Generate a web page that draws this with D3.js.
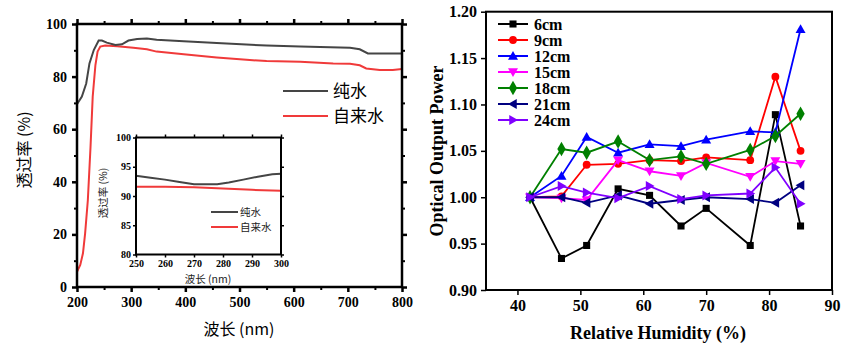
<!DOCTYPE html>
<html><head><meta charset="utf-8">
<script src="https://cdn.jsdelivr.net/npm/d3@7"></script>
<style>
html,body{margin:0;padding:0;background:#fff;}
svg{display:block;}
.num{font-family:"Liberation Serif","Times New Roman",serif;font-weight:bold;}
.cjk{font-family:"Noto Sans CJK SC","Noto Sans",sans-serif;}
</style></head>
<body>
<svg id="c" width="860" height="356"></svg>
<script>
// ---------- Left panel data (transmittance) ----------
const pureWl = [200,209,217,223,231,240,246,255,271,283,295,311,329,347,397,458,550,612,704,722,737,800];
const pureT  = [69.5,72.4,77.4,85,90.1,93.7,93.7,92.9,92.0,92.3,93.7,94.3,94.5,94.0,93.4,92.8,91.8,91.4,91.0,90.4,88.8,88.8];
const tapWl  = [200,206,211,215,220,225,229,234,238,243,252,274,304,329,347,397,458,519,550,612,673,704,722,734,759,783,800];
const tapT   = [5.8,8.4,12.8,20.4,33,53.4,72.4,84.4,89.5,91.4,91.8,91.5,91.0,90.4,89.5,88.5,87.3,86.3,85.9,85.6,85.0,84.9,84.3,83.1,82.5,82.5,82.9];
// inset (zoomed 250-300 nm)
const insetPureWl = [250,255,260,265,270,275,278,282,287,292,297,300];
const insetPureT  = [93.45,93.1,92.8,92.4,92.0,92.0,92.0,92.3,92.8,93.3,93.7,93.8];
const insetTapWl  = [250,260,270,280,290,300];
const insetTapT   = [91.6,91.6,91.5,91.3,91.05,90.9];
const leftSeries = ["纯水","自来水"];
const leftColors = ["#454545","#f03a3a"];
const leftXTicks = [200,300,400,500,600,700,800];
const leftYTicks = [0,20,40,60,80,100];
const insetXTicks = [250,260,270,280,290,300];
const insetYTicks = [80,85,90,95,100];

// ---------- Right panel data (optical output power) ----------
const humidity = [42,47,51,56,61,66,70,77,81,85];
const rightSeries = ["6cm","9cm","12cm","15cm","18cm","21cm","24cm"];
const p6  = [1.000,0.934,0.948,1.009,1.002,0.969,0.988,0.948,1.089,0.969];
const p9  = [1.000,1.001,1.035,1.036,1.040,1.039,1.043,1.040,1.130,1.050];
const p12 = [1.000,1.023,1.065,1.048,1.057,1.055,1.062,1.071,1.070,1.181];
const p15 = [1.000,0.999,0.997,1.040,1.028,1.023,1.037,1.022,1.039,1.036];
const p18 = [1.000,1.052,1.048,1.060,1.040,1.044,1.036,1.051,1.066,1.090];
const p21 = [1.000,1.000,0.994,1.002,0.993,0.997,1.000,0.998,0.994,1.013];
const p24 = [1.000,1.012,1.005,0.999,1.012,0.998,1.002,1.004,1.032,0.993];
const rightValues = [p6,p9,p12,p15,p18,p21,p24];
const rightColors = ["#000000","#ff0000","#0000ff","#ff00ff","#008000","#000080","#8000ff"];
const rightXTicks = [40,50,60,70,80,90];
const rightYTicks = [0.90,0.95,1.00,1.05,1.10,1.15,1.20];

const SERIF = '"Liberation Serif","Times New Roman",serif';
const svg = d3.select("#c");

function styleAxis(g, fontSize, strokeW){
  g.select(".domain").remove();
  g.attr("font-family",SERIF);
  g.selectAll(".tick line").attr("stroke","#000").attr("stroke-width",strokeW);
  g.selectAll(".tick text").style("font-family",SERIF).style("font-weight","bold")
    .attr("font-size",fontSize).attr("fill","#000");
}

// ================= LEFT MAIN =================
const lx = d3.scaleLinear([200,800],[77,402]);
const ly = d3.scaleLinear([0,100],[287,24]);
const line = (xs,ys,sx,sy)=>d3.line().x((d,i)=>sx(xs[i])).y((d,i)=>sy(ys[i]))(xs);

// minor ticks
const minorX = d3.range(250,800,100);
const minorY = d3.range(10,100,20);
[[d3.axisBottom(lx).tickValues(minorX).tickSize(3).tickFormat(""),`translate(0,287)`],
 [d3.axisTop(lx).tickValues(minorX).tickSize(3).tickFormat(""),`translate(0,24)`],
 [d3.axisLeft(ly).tickValues(minorY).tickSize(3).tickFormat(""),`translate(77,0)`],
 [d3.axisRight(ly).tickValues(minorY).tickSize(3).tickFormat(""),`translate(402,0)`]
].forEach(([ax,tr])=>{const g=svg.append("g").attr("transform",tr).call(ax);styleAxis(g,0,2);});

let g = svg.append("g").attr("transform","translate(0,287)")
  .call(d3.axisBottom(lx).tickValues(leftXTicks).tickSize(5).tickPadding(4).tickFormat(d3.format("d")));
styleAxis(g,14,2.5); g.selectAll(".tick text").attr("dy","0.75em");
g = svg.append("g").attr("transform","translate(0,24)")
  .call(d3.axisTop(lx).tickValues(leftXTicks).tickSize(5).tickFormat(""));
styleAxis(g,0,2.5);
g = svg.append("g").attr("transform","translate(77,0)")
  .call(d3.axisLeft(ly).tickValues(leftYTicks).tickSize(5).tickPadding(5).tickFormat(d3.format("d")));
styleAxis(g,14,2.5);
g = svg.append("g").attr("transform","translate(402,0)")
  .call(d3.axisRight(ly).tickValues(leftYTicks).tickSize(5).tickFormat(""));
styleAxis(g,0,2.5);

svg.append("path").attr("d",line(tapWl,tapT,lx,ly)).attr("fill","none").attr("stroke",leftColors[1]).attr("stroke-width",2);
svg.append("path").attr("d",line(pureWl,pureT,lx,ly)).attr("fill","none").attr("stroke",leftColors[0]).attr("stroke-width",2);

svg.append("rect").attr("x",77).attr("y",24).attr("width",325).attr("height",263)
  .attr("fill","none").attr("stroke","#000").attr("stroke-width",2.5);

svg.append("text").attr("class","cjk").attr("x",239).attr("y",335).attr("text-anchor","middle")
  .attr("font-size",16).text("波长 (nm)");
svg.append("text").attr("class","cjk").attr("transform","translate(30,150) rotate(-90)")
  .attr("text-anchor","middle").attr("font-size",16).text("透过率 (%)");

// main legend
leftSeries.forEach((s,i)=>{
  const yy = 91 + i*25;
  svg.append("line").attr("x1",283).attr("x2",328).attr("y1",yy).attr("y2",yy)
    .attr("stroke",leftColors[i]).attr("stroke-width",2);
  svg.append("text").attr("class","cjk").attr("x",333).attr("y",yy).attr("dy","0.35em")
    .attr("font-size",17).text(s);
});

// ================= INSET =================
const ix = d3.scaleLinear([250,300],[136,281]);
const iy = d3.scaleLinear([80,100],[254.5,137.5]);
svg.append("rect").attr("x",136).attr("y",137.5).attr("width",145).attr("height",117).attr("fill","#fff");
g = svg.append("g").attr("transform","translate(0,254.5)")
  .call(d3.axisBottom(ix).tickValues(insetXTicks).tickSize(3).tickPadding(2).tickFormat(d3.format("d")));
styleAxis(g,10,1.5); g.selectAll(".tick text").attr("dy","0.75em");
g = svg.append("g").attr("transform","translate(0,137.5)")
  .call(d3.axisTop(ix).tickValues(insetXTicks).tickSize(3).tickFormat(""));
styleAxis(g,0,1.5);
g = svg.append("g").attr("transform","translate(136,0)")
  .call(d3.axisLeft(iy).tickValues(insetYTicks).tickSize(3).tickPadding(2).tickFormat(d3.format("d")));
styleAxis(g,10,1.5);
g = svg.append("g").attr("transform","translate(281,0)")
  .call(d3.axisRight(iy).tickValues(insetYTicks).tickSize(3).tickFormat(""));
styleAxis(g,0,1.5);
svg.append("path").attr("d",line(insetTapWl,insetTapT,ix,iy)).attr("fill","none").attr("stroke",leftColors[1]).attr("stroke-width",2);
svg.append("path").attr("d",line(insetPureWl,insetPureT,ix,iy)).attr("fill","none").attr("stroke",leftColors[0]).attr("stroke-width",2);
svg.append("rect").attr("x",136).attr("y",137.5).attr("width",145).attr("height",117)
  .attr("fill","none").attr("stroke","#000").attr("stroke-width",2);
svg.append("text").attr("class","cjk").attr("x",208).attr("y",283).attr("text-anchor","middle")
  .attr("font-size",10.5).attr("fill","#222").text("波长 (nm)");
svg.append("text").attr("class","cjk").attr("transform","translate(107,193) rotate(-90)")
  .attr("text-anchor","middle").attr("font-size",10.5).attr("fill","#222").text("透过率 (%)");
leftSeries.forEach((s,i)=>{
  const yy = 212 + i*15;
  svg.append("line").attr("x1",211).attr("x2",238).attr("y1",yy).attr("y2",yy)
    .attr("stroke",leftColors[i]).attr("stroke-width",2);
  svg.append("text").attr("class","cjk").attr("x",240).attr("y",yy).attr("dy","0.35em")
    .attr("font-size",10.5).attr("fill","#222").text(s);
});

// ================= RIGHT =================
const rx = d3.scaleLinear([35,90],[486,832]);
const ry = d3.scaleLinear([0.9,1.2],[290,11.7]);
g = svg.append("g").attr("transform","translate(0,290)")
  .call(d3.axisBottom(rx).tickValues(rightXTicks).tickSize(5).tickPadding(4).tickFormat(d3.format("d")));
styleAxis(g,16,1.5); g.selectAll(".tick text").attr("dy","0.75em");
g = svg.append("g").attr("transform","translate(486,0)")
  .call(d3.axisLeft(ry).tickValues(rightYTicks).tickSize(5).tickPadding(4).tickFormat(d3.format(".2f")));
styleAxis(g,16,1.5);
svg.append("rect").attr("x",486).attr("y",11.7).attr("width",346).attr("height",278.3)
  .attr("fill","none").attr("stroke","#000").attr("stroke-width",2);

const symTypes = [d3.symbolSquare,d3.symbolCircle,"up","down",d3.symbolDiamond,"left","right"];
function marker(sel,i,x,y){
  const t = symTypes[i];
  if (typeof t === "string"){
    const s = 5;
    let pts;
    if (t==="up") pts=[[0,-s],[s,s*0.75],[-s,s*0.75]];
    if (t==="down") pts=[[0,s],[s,-s*0.75],[-s,-s*0.75]];
    if (t==="left") pts=[[-s,0],[s*0.75,-s],[s*0.75,s]];
    if (t==="right") pts=[[s,0],[-s*0.75,-s],[-s*0.75,s]];
    sel.append("path").attr("d","M"+pts.map(p=>p.join(",")).join("L")+"Z")
      .attr("transform",`translate(${x},${y})`).attr("fill",rightColors[i]);
  } else {
    const size = t===d3.symbolSquare?50:(t===d3.symbolCircle?48:60);
    sel.append("path").attr("d",d3.symbol(t,size)()).attr("transform",`translate(${x},${y})`)
      .attr("fill",rightColors[i]);
  }
}
rightSeries.forEach((s,i)=>{
  const vals = rightValues[i];
  svg.append("path").attr("d",line(humidity,vals,rx,ry)).attr("fill","none")
    .attr("stroke",rightColors[i]).attr("stroke-width",1.8);
  const mg = svg.append("g");
  humidity.forEach((h,j)=>marker(mg,i,rx(h),ry(vals[j])));
  // legend
  const yy = 24 + i*16;
  svg.append("line").attr("x1",498).attr("x2",528).attr("y1",yy).attr("y2",yy)
    .attr("stroke",rightColors[i]).attr("stroke-width",2);
  marker(svg,i,513,yy);
  svg.append("text").attr("class","num").attr("x",534).attr("y",yy).attr("dy","0.35em")
    .attr("font-size",16).text(s);
});
svg.append("text").attr("class","num").attr("x",658).attr("y",339).attr("text-anchor","middle")
  .attr("font-size",18).text("Relative Humidity (%)");
svg.append("text").attr("class","num").attr("transform","translate(443,151) rotate(-90)")
  .attr("text-anchor","middle").attr("font-size",18).text("Optical Output Power");
</script>
</body></html>
